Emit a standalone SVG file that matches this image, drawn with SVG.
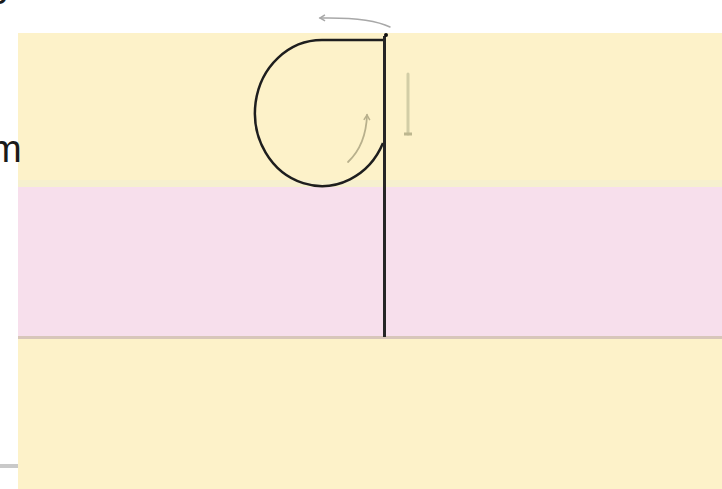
<svg xmlns="http://www.w3.org/2000/svg" width="722" height="489" viewBox="0 0 722 489">
<style>
.lbl{font-family:"Liberation Sans",Arial,sans-serif;font-size:38px;fill:#1a1a1a}
.hint{fill:none;stroke-linecap:round;stroke-linejoin:round}
</style>
<defs>
<marker id="ahg" markerWidth="10" markerHeight="8" refX="6" refY="4" orient="auto" markerUnits="userSpaceOnUse">
<path d="M1,1 L6,4 L1,7" fill="none" stroke="#a8a8a8" stroke-width="1.5"/>
</marker>
<marker id="aht" markerWidth="10" markerHeight="8" refX="6" refY="4" orient="auto" markerUnits="userSpaceOnUse">
<path d="M1,1 L6,4 L1,7" fill="none" stroke="#b8b08c" stroke-width="1.5"/>
</marker>
<marker id="ahd" markerWidth="10" markerHeight="10" refX="3" refY="5" orient="auto" markerUnits="userSpaceOnUse">
<path d="M3,1 L3,9" fill="none" stroke="#bdb78f" stroke-width="3"/>
</marker>
</defs>
<rect width="722" height="489" fill="#ffffff"/>
<g id="band-top">
<rect x="18" y="33" width="704" height="154" fill="#fdf2c9"/>
<rect x="18" y="180" width="704" height="7" fill="#f6f0cf"/>
</g>
<g id="band-middle">
<rect x="18" y="187" width="704" height="149" fill="#f7dfec"/>
</g>
<rect x="18" y="336" width="704" height="3" fill="#d8c6ba"/>
<g id="band-bottom">
<rect x="18" y="339" width="704" height="150" fill="#fdf2c9"/>
</g>
<rect x="0" y="464" width="18" height="4" fill="#c9c9c9"/>
<g id="labels">
<text class="lbl" x="-10" y="162">m</text>
<text class="lbl" x="-13" y="4">e</text>
</g>
<g id="connectors">
<path d="M384,40 H322 A67 73 0 1 0 383,143" fill="none" stroke="#1e1e1e" stroke-width="2.5"/>
<line x1="384.5" y1="36" x2="384.5" y2="337" stroke="#262626" stroke-width="3"/>
<circle cx="386" cy="35" r="2" fill="#111"/>
<path class="hint" d="M390,27 Q370,17 320,18" stroke="#a8a8a8" stroke-width="1.5" marker-end="url(#ahg)"/>
<path class="hint" d="M408,74 V134" stroke="#d2cda6" stroke-width="3" marker-end="url(#ahd)"/>
<path class="hint" d="M348,162 Q366,145 367,115" stroke="#b8b08c" stroke-width="1.8" marker-end="url(#aht)"/>
</g>
</svg>
